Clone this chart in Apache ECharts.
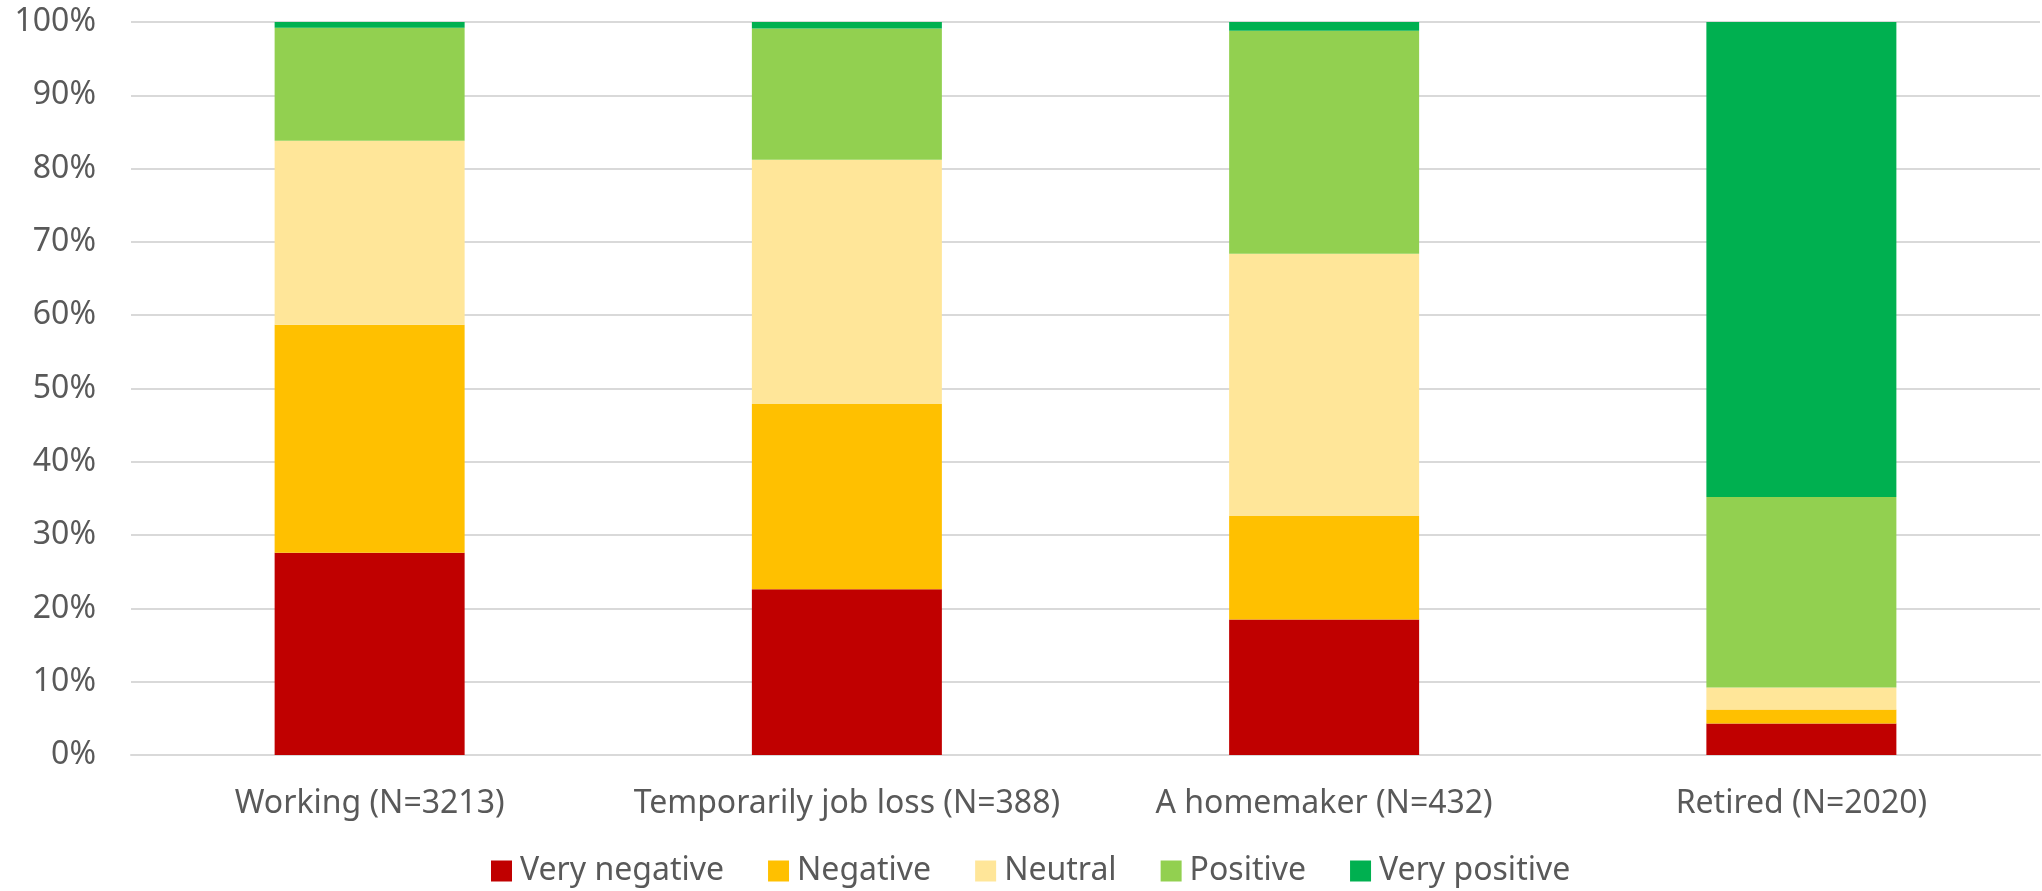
<!DOCTYPE html>
<html>
<head>
<meta charset="utf-8">
<script src="https://cdn.jsdelivr.net/npm/echarts@6/dist/echarts.min.js"></script>
<style>
  html, body { margin: 0; padding: 0; background: #fff; }
  #chart { width: 2042px; height: 891px; }
</style>
</head>
<body>
<div id="chart"></div>
<script>
// Share of responses (%) per employment status
const categories = ['Working (N=3213)', 'Temporarily job loss (N=388)', 'A homemaker (N=432)', 'Retired (N=2020)'];
const veryNegative = [27.6, 22.6, 18.5, 4.3];
const negative     = [31.1, 25.3, 14.1, 1.9];
const neutral      = [25.1, 33.3, 35.8, 3.0];
const positive     = [15.4, 17.9, 30.4, 26.0];
const veryPositive = [0.8, 0.9, 1.2, 64.8];
const seriesNames  = ['Very negative', 'Negative', 'Neutral', 'Positive', 'Very positive'];
const seriesColors = ['#C00000', '#FFC000', '#FFE699', '#92D050', '#00B050'];
const seriesValues = [veryNegative, negative, neutral, positive, veryPositive];

const FONT = '"Noto Sans", "Open Sans", sans-serif';
const TEXT_COLOR = '#595959';

const chart = echarts.init(document.getElementById('chart'), null, { renderer: 'canvas' });
chart.setOption({
  animation: false,
  backgroundColor: '#ffffff',
  grid: { left: 131, right: 2, top: 22, bottom: 136, containLabel: false },
  legend: {
    data: seriesNames,
    left: 491,
    top: 851,
    padding: 0,
    itemWidth: 21,
    itemHeight: 21,
    itemGap: 44,
    icon: 'rect',
    textStyle: { fontFamily: FONT, fontSize: 32, lineHeight: 40, color: TEXT_COLOR, padding: [0, 0, 0, 3] }
  },
  xAxis: {
    type: 'category',
    data: categories,
    axisLine: { show: true, lineStyle: { color: '#D9D9D9', width: 2 } },
    axisTick: { show: false },
    axisLabel: { fontFamily: FONT, fontSize: 32, color: TEXT_COLOR, margin: 33, interval: 0 }
  },
  yAxis: {
    type: 'value',
    min: 0,
    max: 100,
    interval: 10,
    axisLine: { show: false },
    axisTick: { show: false },
    splitLine: { lineStyle: { color: '#D9D9D9', width: 2 } },
    axisLabel: {
      fontFamily: FONT, fontSize: 32, color: TEXT_COLOR, margin: 35,
      formatter: v => v + '%'
    }
  },
  series: seriesNames.map((name, i) => ({
    name,
    type: 'bar',
    stack: 'total',
    barWidth: 190,
    data: seriesValues[i],
    itemStyle: { color: seriesColors[i] }
  }))
});
</script>
</body>
</html>
